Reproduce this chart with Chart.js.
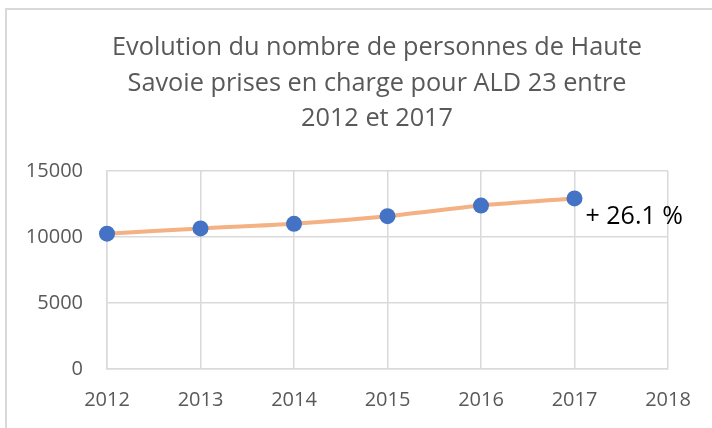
<!DOCTYPE html>
<html>
<head>
<meta charset="utf-8">
<script src="https://cdn.jsdelivr.net/npm/chart.js@4/dist/chart.umd.min.js"></script>
<style>
  html, body { margin: 0; padding: 0; background: #fff; }
  #wrap { width: 712px; height: 428px; position: relative; }
</style>
</head>
<body>
<div id="wrap"><canvas id="myChart" width="712" height="428"></canvas></div>
<script>
var years = ['2012', '2013', '2014', '2015', '2016', '2017', '2018'];
var patients = [10250, 10650, 11000, 11580, 12380, 12925];
var yTicks = [0, 5000, 10000, 15000];
var titleLines = [
  'Evolution du nombre de personnes de Haute',
  'Savoie prises en charge pour ALD 23 entre',
  '2012 et 2017'
];
var growthLabel = '+ 26.1 %';

var gridCol = '#d9d9d9';
var textCol = '#595959';
var font = '"Open Sans", sans-serif';

// frame + title + the growth label next to the last point
var decor = {
  id: 'decor',
  beforeDraw: function(chart) {
    var c = chart.ctx;
    c.save();
    c.fillStyle = '#fff';
    c.fillRect(0, 0, chart.width, chart.height);
    c.strokeStyle = gridCol;
    c.lineWidth = 2;
    c.strokeRect(6, 9, 800, 600);
    c.restore();
  },
  afterDraw: function(chart) {
    var c = chart.ctx;
    c.save();
    c.fillStyle = textCol;
    c.font = '25.3px ' + font;
    c.textAlign = 'center';
    c.textBaseline = 'alphabetic';
    var base = [55, 91, 126];
    titleLines.forEach(function(t, i) { c.fillText(t, 377, base[i]); });

    var meta = chart.getDatasetMeta(0);
    var last = meta.data[meta.data.length - 1];
    c.fillStyle = '#000';
    c.font = '25px ' + font;
    c.textAlign = 'left';
    c.textBaseline = 'middle';
    c.fillText(growthLabel, last.x + 11, last.y + 18);
    c.restore();
  }
};

var ctx = document.getElementById('myChart').getContext('2d');
var lineChart = new Chart(ctx, {
  type: 'line',
  data: {
    labels: years,
    datasets: [{
      data: patients,
      borderColor: '#f4b183',
      borderWidth: 4,
      tension: 0.25,
      pointRadius: 8,
      pointHoverRadius: 8,
      pointBackgroundColor: '#4472c4',
      pointBorderColor: '#4472c4',
      pointBorderWidth: 0,
      clip: false
    }]
  },
  options: {
    responsive: false,
    animation: false,
    events: [],
    layout: { padding: { top: 171, right: 44, bottom: 0, left: 0 } },
    plugins: {
      legend: { display: false },
      title: { display: false },
      tooltip: { enabled: false }
    },
    scales: {
      x: {
        offset: false,
        grid: { color: gridCol, lineWidth: 1.5, drawTicks: false },
        border: { color: gridCol, width: 1.5 },
        ticks: { color: textCol, font: { family: font, size: 20 }, padding: 19, maxRotation: 0 },
        afterFit: function(s) { s.height = 59; }
      },
      y: {
        min: yTicks[0],
        max: yTicks[yTicks.length - 1],
        grid: { color: gridCol, lineWidth: 1.5, drawTicks: false },
        border: { color: gridCol, width: 1.5 },
        ticks: {
          stepSize: yTicks[1] - yTicks[0],
          color: textCol,
          font: { family: font, size: 20 },
          padding: 24,
          callback: function(v) { return String(v); }
        },
        afterFit: function(s) { s.width = 107; }
      }
    }
  },
  plugins: [decor]
});
</script>
</body>
</html>
